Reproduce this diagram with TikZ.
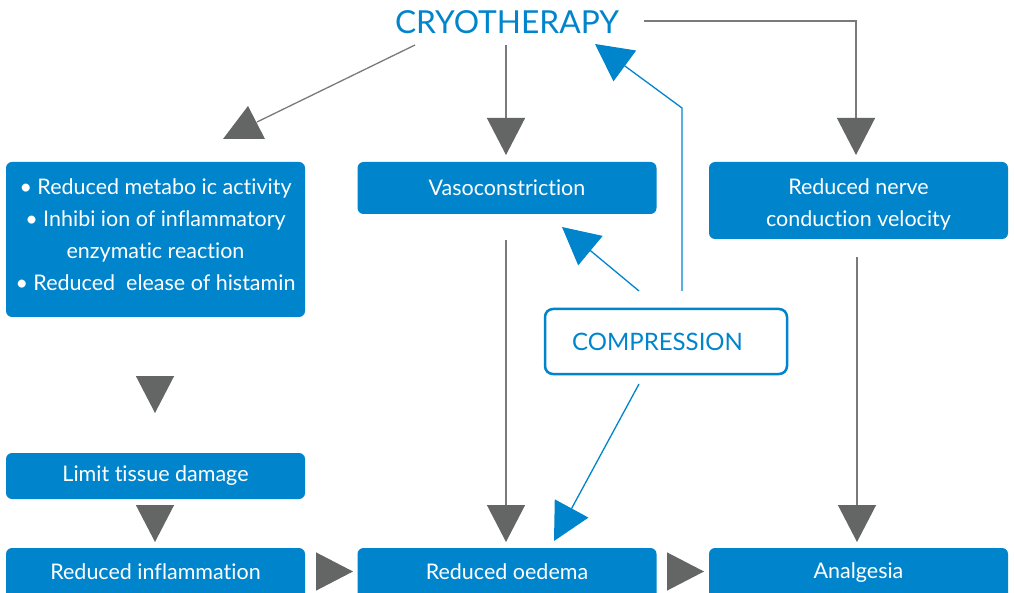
\documentclass[tikz,border=0pt]{standalone}
\usepackage{fontspec}
\setmainfont{Lato}[Ligatures={NoCommon}]
\usetikzlibrary{arrows.meta}
\definecolor{cblue}{HTML}{0085CC}
\definecolor{lgray}{HTML}{7A7A7A}
\definecolor{dgray}{HTML}{646665}
\tikzset{
  box/.style={fill=cblue, rounded corners=6pt, minimum width=299pt, inner sep=0pt},
  boxtext/.style={text=white, align=center, font=\fontsize{21.5}{32}\selectfont, inner sep=0pt},
  garrow/.style={draw=lgray, line width=1.3pt, -{Triangle[length=37pt,width=38pt,color=dgray,fill=dgray]}},
  barrow/.style={draw=cblue, line width=1.3pt, -{Triangle[length=37pt,width=38pt,color=cblue,fill=cblue]}},
  gline/.style={draw=lgray, line width=1.3pt},
}
\begin{document}
\begin{tikzpicture}[x=1pt,y=-1pt]
\useasboundingbox (0,0) rectangle (1014,593);
\fill[white] (0,0) rectangle (1014,593);

\node[text=cblue, font=\fontsize{31.7}{36}\selectfont, inner sep=0pt] (cryo) at (507,22) {CRYOTHERAPY};

\node[box, minimum height=155pt] (metab) at (155.5,239.5) {};
\node[boxtext] (metabt) at (155.5,235)
  {• Reduced metabo ic activity\\• Inhibi ion of inflammatory\\enzymatic reaction\\• Reduced\ \ elease of histamin};
\node[box, minimum height=52pt] (vaso) at (507,188) {};
\node[boxtext] (vasot) at (507,188) {Vasoconstriction};
\node[box, minimum height=77pt] (nerve) at (858.5,200.5) {};
\node[boxtext] (nervet) at (858.5,204) {Reduced nerve\\conduction velocity};
\node[box, minimum height=46pt] (limit) at (155.5,476) {};
\node[boxtext] (limitt) at (155.5,476) {Limit tissue damage};
\node[box, minimum height=56pt] (infl) at (155.5,576) {};
\node[boxtext] (inflt) at (155.5,571.5) {Reduced inflammation};
\node[box, minimum height=56pt] (oed) at (507,576) {};
\node[boxtext] (oedt) at (507,571.5) {Reduced oedema};
\node[box, minimum height=56pt] (analg) at (858.5,576) {};
\node[boxtext] (analgt) at (858.5,572.5) {Analgesia};
\node[draw=cblue, fill=white, line width=2.5pt, rounded corners=8pt, minimum width=242pt, minimum height=65pt,
  text=cblue, font=\fontsize{24}{30}\selectfont, inner sep=0pt] (comp) at (666,341.5) {COMPRESSION\kern17pt};

% coordinates
\coordinate (c1s) at (415,45);
\coordinate (c1e) at (257,122);
\coordinate (c2s) at (506,45);
\coordinate (c2e) at (506,155);
\coordinate (c3s) at (644,21);
\coordinate (c3m) at (856,21);
\coordinate (c3e) at (856,155);
\coordinate (m1s) at (155,376);
\coordinate (m1e) at (155,413);
\coordinate (l1s) at (155,505);
\coordinate (l1e) at (155,542);
\coordinate (i1s) at (316,571.5);
\coordinate (i1e) at (353,571.5);
\coordinate (o1s) at (667,571.5);
\coordinate (o1e) at (704,571.5);
\coordinate (v1s) at (506,240);
\coordinate (v1e) at (506,542);
\coordinate (n1s) at (857,257);
\coordinate (n1e) at (857,542);
\coordinate (p1s) at (639,291);
\coordinate (p1e) at (562,227);
\coordinate (p2s) at (682,291);
\coordinate (p2m) at (682,108);
\coordinate (p2e) at (595,44);
\coordinate (p3s) at (639,384);
\coordinate (p3e) at (554,541);

% gray connectors
\draw[gline] (c1s) -- (c1e);
\fill[dgray] (223,139) -- (265,139) -- (248,106) -- cycle;
\draw[garrow] (c2s) -- (c2e);
\draw[garrow] (c3s) -- (c3m) -- (c3e);
\draw[garrow] (m1s) -- (m1e);
\draw[garrow] (l1s) -- (l1e);
\draw[garrow] (i1s) -- (i1e);
\draw[garrow] (o1s) -- (o1e);
\draw[garrow] (v1s) -- (v1e);
\draw[garrow] (n1s) -- (n1e);

% blue connectors
\draw[barrow] (p1s) -- (p1e);
\draw[barrow] (p2s) -- (p2m) -- (p2e);
\draw[barrow] (p3s) -- (p3e);
\end{tikzpicture}
\end{document}
